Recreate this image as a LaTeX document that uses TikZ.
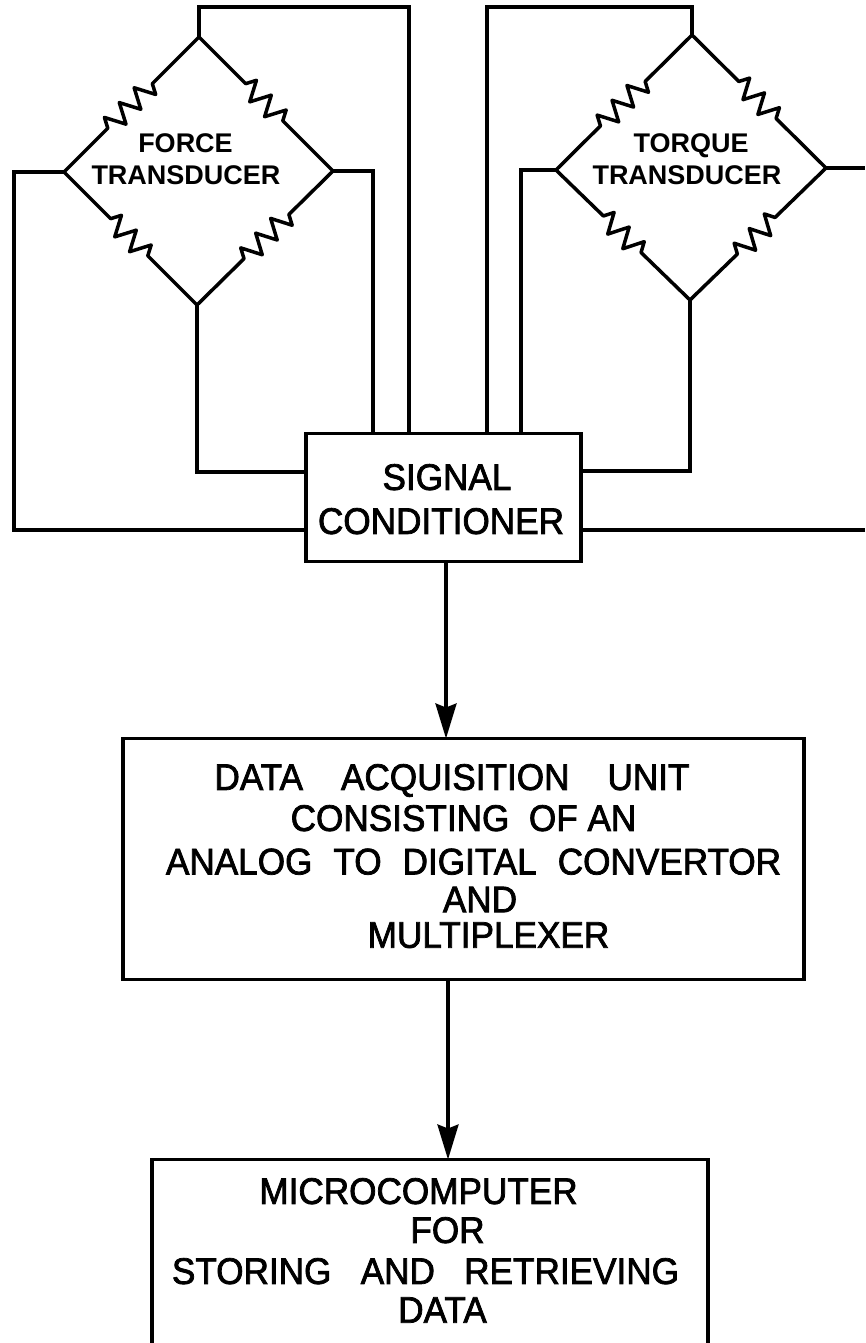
\documentclass[tikz,border=0pt]{standalone}
\usepackage{fontspec}
\setmainfont{Liberation Sans}
\newfontfamily\boxfont[FakeStretch=0.95,FakeBold=2]{Liberation Sans}
\usetikzlibrary{arrows.meta, positioning, decorations.pathmorphing}
\tikzset{
  flowbox/.style={
    draw=black, fill=white, line width=3.5pt,
    inner sep=0pt, outer sep=0pt
  },
  boxlabel/.style={
    font=\fontsize{37}{37}\selectfont\boxfont,
    inner sep=0pt, text depth=0pt
  },
  bridgelabel/.style={
    font=\fontsize{27}{27}\selectfont\bfseries,
    inner sep=0pt, text depth=0pt
  },
  wire/.style={
    draw=black, line width=3.5pt, line join=miter
  },
  bridgearm/.style={
    draw=black, line width=3.5pt, line join=round,
    decorate, decoration={zigzag, segment length=21pt, amplitude=10pt,
      pre length=66pt, post length=61pt}
  },
  flowarrow/.style={
    -{Stealth[length=35pt,width=21pt,inset=4pt]},
    draw=black, line width=3.5pt
  },
}

\begin{document}
\begin{tikzpicture}[x=1pt,y=-1pt]

  \clip (0,0) rectangle (865,1343);
  \fill[white] (0,0) rectangle (865,1343);

  %% Blocks
  \node[flowbox, minimum width=275pt, minimum height=128pt] (cond) at (443.5,497.5) {};
  \node[flowbox, minimum width=681pt, minimum height=241pt, below=177pt of cond, xshift=20pt] (acq) {};
  \node[flowbox, minimum width=556pt, minimum height=210pt, below=180pt of acq, xshift=-33.5pt] (micro) {};

  %% Bridge corners
  \coordinate (ftop) at (199,37);
  \coordinate (fleft) at (64,172);
  \coordinate (fright) at (333,171);
  \coordinate (fbot) at (197,305);
  \coordinate (ttop) at (692,35);
  \coordinate (tleft) at (556,170);
  \coordinate (tright) at (826,168);
  \coordinate (tbot) at (690,300);
  \coordinate (tout) at (865,168);
  \coordinate (cout) at (865,530);

  %% Force bridge
  \draw[bridgearm] (ftop) -- (fleft);
  \draw[bridgearm] (ftop) -- (fright);
  \draw[bridgearm] (fleft) -- (fbot);
  \draw[bridgearm] (fbot) -- (fright);

  %% Torque bridge
  \draw[bridgearm] (ttop) -- (tleft);
  \draw[bridgearm] (ttop) -- (tright);
  \draw[bridgearm] (tleft) -- (tbot);
  \draw[bridgearm] (tbot) -- (tright);

  %% Leads into the conditioner
  \draw[wire] (ftop) -- ++(0,-30) -| ([xshift=-34.5pt]cond.north);
  \draw[wire] (fleft) -- ++(-50,0) |- ([yshift=-32.5pt]cond.west);
  \draw[wire] (fright) -| ([xshift=-70.5pt]cond.north);
  \draw[wire] (fbot) |- ([yshift=25.5pt]cond.west);
  \draw[wire] (ttop) -- ++(0,-28) -| ([xshift=43.5pt]cond.north);
  \draw[wire] (tleft) -| ([xshift=77.5pt]cond.north);
  \draw[wire] (tright) -- (tout);
  \draw[wire] (tbot) |- ([yshift=26.5pt]cond.east);
  \draw[wire] (cout) -- ([yshift=-32.5pt]cond.east);

  %% Flow
  \draw[flowarrow] ([xshift=2.5pt]cond.south) -- ([xshift=-17.5pt]acq.north);
  \draw[flowarrow] ([xshift=-15.5pt]acq.south) -- ([xshift=18pt]micro.north);

  %% Labels
  \node[bridgelabel] (fname) at (185.5,143) {FORCE};
  \node[bridgelabel] (fname2) at (186,175) {TRANSDUCER};
  \node[bridgelabel] (tname) at (691,143) {TORQUE};
  \node[bridgelabel] (tname2) at (687,175) {TRANSDUCER};

  \node[boxlabel] (cond1) at (447,477) {SIGNAL};
  \node[boxlabel] (cond2) at (441,521) {CONDITIONER};

  \node[boxlabel] (acq1) at (452,777) {DATA\hspace{38pt}ACQUISITION\hspace{38pt}UNIT};
  \node[boxlabel] (acq2) at (463.5,818) {CONSISTING\ \ OF AN};
  \node[boxlabel] (acq3) at (473.5,861.5) {ANALOG\hspace{21pt}TO\hspace{21pt}DIGITAL\hspace{21pt}CONVERTOR};
  \node[boxlabel] (acq4) at (480,899.5) {AND};
  \node[boxlabel] (acq5) at (488.5,935) {MULTIPLEXER};

  \node[boxlabel] (micro1) at (418.5,1191) {MICROCOMPUTER};
  \node[boxlabel] (micro2) at (447.5,1230) {FOR};
  \node[boxlabel] (micro3) at (425.5,1271) {STORING\ \ \ AND\ \ \ RETRIEVING};
  \node[boxlabel] (micro4) at (442.5,1310) {DATA};

\end{tikzpicture}
\end{document}
